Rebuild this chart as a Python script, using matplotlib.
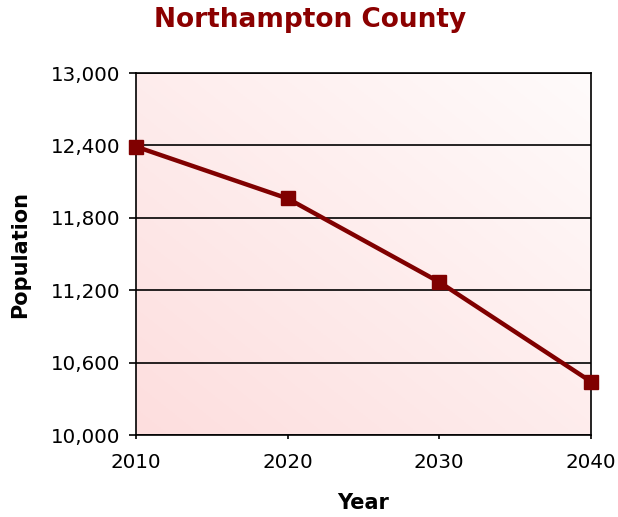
import matplotlib
matplotlib.use("Agg")
import matplotlib.pyplot as plt
import numpy as np
from matplotlib.ticker import FuncFormatter
from matplotlib.colors import LinearSegmentedColormap

years = [2010, 2020, 2030, 2040]
population = [12390, 11960, 11268, 10443]
yticks = [10000, 10600, 11200, 11800, 12400, 13000]

fig = plt.figure(figsize=(6.18, 5.17), dpi=100)
ax = fig.add_axes([0.220, 0.1586, 0.736, 0.7002])

# gradient background
cmap = LinearSegmentedColormap.from_list("g", ["#fddede", "#fffbfb"])
xx, yy = np.meshgrid(np.linspace(0, 1, 200), np.linspace(0, 1, 200))
grad = (xx + yy) / 2
ax.imshow(grad, cmap=cmap, extent=[0, 1, 0, 1], transform=ax.transAxes,
          origin="lower", aspect="auto", zorder=0)

ax.set_xlim(2010, 2040)
ax.set_ylim(10000, 13000)
ax.set_yticks(yticks)
ax.set_xticks(years)
ax.yaxis.set_major_formatter(FuncFormatter(lambda v, p: f"{int(v):,}"))
ax.grid(axis="y", color="black", linewidth=1.2, zorder=1)
ax.set_axisbelow(False)

ax.plot(years, population, color="#800000", linewidth=3.2, marker="s",
        markersize=10, clip_on=False, zorder=5)

for s in ax.spines.values():
    s.set_linewidth(1.2)
    s.set_color("black")
ax.tick_params(axis="both", labelsize=14.3, width=1.2, colors="black")
ax.tick_params(axis="y", length=5, pad=6)
ax.tick_params(axis="x", length=3, pad=10)

ax.set_xlabel("Year", fontsize=15, fontweight="bold", labelpad=15)
ax.set_ylabel("Population", fontsize=15, fontweight="bold", labelpad=15)
fig.text(0.502, 0.962, "Northampton County", ha="center", va="center",
         fontsize=19, fontweight="bold", color="#8b0000")

fig.savefig("out.png", dpi=100)
